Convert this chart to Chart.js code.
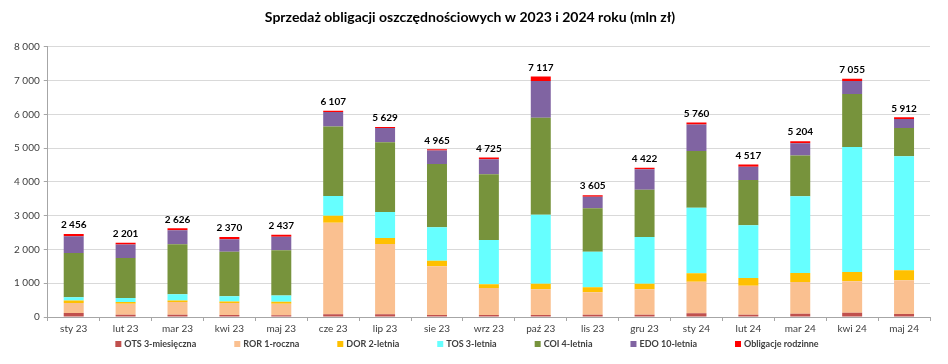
<!DOCTYPE html>
<html>
<head>
<meta charset="utf-8">
<script src="https://cdn.jsdelivr.net/npm/chart.js@4/dist/chart.umd.min.js"></script>
<style>
html, body { margin: 0; padding: 0; background: #fff; }
#wrap { width: 948px; height: 364px; }
</style>
</head>
<body>
<div id="wrap"><canvas id="salesChart" width="948" height="364"></canvas></div>
<script>
var months = ["sty 23","lut 23","mar 23","kwi 23","maj 23","cze 23","lip 23","sie 23","wrz 23","paź 23","lis 23","gru 23","sty 24","lut 24","mar 24","kwi 24","maj 24"];

var ots = [118, 69, 70, 60, 55, 80, 80, 60, 60, 60, 70, 70, 109, 70, 99, 128, 89];
var ror = [294, 323, 371, 352, 337, 2714, 2082, 1440, 799, 759, 660, 749, 937, 858, 938, 928, 997];
var dor = [78, 49, 49, 49, 59, 207, 178, 168, 108, 168, 149, 168, 247, 227, 266, 277, 296];
var tos = [98, 118, 186, 157, 186, 582, 770, 987, 1313, 2044, 1056, 1382, 1945, 1560, 2271, 3702, 3376];
var coi = [1304, 1186, 1481, 1313, 1343, 2054, 2063, 1876, 1945, 2872, 1283, 1402, 1678, 1342, 1204, 1569, 839];
var edo = [500, 402, 412, 373, 393, 434, 424, 395, 444, 1086, 346, 602, 780, 395, 365, 385, 267];
var rodzinne = [64, 54, 57, 66, 64, 36, 32, 39, 56, 128, 41, 49, 64, 65, 61, 66, 48];

var totals = [2456, 2201, 2626, 2370, 2437, 6107, 5629, 4965, 4725, 7117, 3605, 4422, 5760, 4517, 5204, 7055, 5912];

var yTicks = [0, 1000, 2000, 3000, 4000, 5000, 6000, 7000, 8000];

function fmt(n) {
	return String(n).replace(/\B(?=(\d{3})+(?!\d))/g, " ");
}

var font = "Lato";

// sum labels above every bar
var totalsPlugin = {
	id: "totals",
	afterDatasetsDraw: function(chart) {
		var ctx = chart.ctx;
		var last = chart.getDatasetMeta(chart.data.datasets.length - 1);
		ctx.save();
		ctx.font = "bold 10px " + font;
		ctx.fillStyle = "#000000";
		ctx.textAlign = "center";
		ctx.textBaseline = "bottom";
		for(var i = 0;i < totals.length;++i) {
			var bar = last.data[i];
			ctx.fillText(fmt(totals[i]), bar.x, bar.y - 4);
		}
		ctx.restore();
	}
};

// Excel-like legend: one compact row, wide gaps between items
var legendPlugin = {
	id: "rowLegend",
	afterDraw: function(chart) {
		var ctx = chart.ctx;
		var sets = chart.data.datasets;
		var box = 6, gapBox = 3, gapItem = 38;
		ctx.save();
		ctx.font = "bold 9px " + font;
		ctx.textBaseline = "middle";
		ctx.textAlign = "left";
		var widths = sets.map(function(d) { return box + gapBox + ctx.measureText(d.label).width; });
		var total = widths.reduce(function(a, b) { return a + b; }, 0) + gapItem * (sets.length - 1);
		var x = chart.width / 2 - total / 2 - 7;
		var y = chart.height - 20;
		for(var i = 0;i < sets.length;++i) {
			ctx.fillStyle = sets[i].backgroundColor;
			ctx.fillRect(x, y - box / 2, box, box);
			ctx.fillStyle = "#404040";
			ctx.fillText(sets[i].label, x + box + gapBox, y);
			x += widths[i] + gapItem;
		}
		ctx.restore();
	}
};

function ds(label, values, color) {
	return {
		label: label,
		data: values,
		backgroundColor: color,
		borderWidth: 0,
		barPercentage: 0.77,
		categoryPercentage: 0.5
	};
}

var data = {
	labels: months,
	datasets: [
		ds("OTS 3-miesięczna", ots, "#c0504d"),
		ds("ROR 1-roczna", ror, "#fac090"),
		ds("DOR 2-letnia", dor, "#ffc000"),
		ds("TOS 3-letnia", tos, "#66ffff"),
		ds("COI 4-letnia", coi, "#77933c"),
		ds("EDO 10-letnia", edo, "#8064a2"),
		ds("Obligacje rodzinne", rodzinne, "#ff0000")
	]
};

var config = {
	type: "bar",
	data: data,
	plugins: [totalsPlugin, legendPlugin],
	options: {
		responsive: false,
		devicePixelRatio: 1,
		animation: false,
		layout: {padding: {left: 10, right: 18, top: 0, bottom: 27}},
		plugins: {
			title: {
				display: true,
				text: "Sprzedaż obligacji oszczędnościowych w 2023 i 2024 roku (mln zł)",
				color: "#000000",
				font: {family: font, size: 14, weight: "bold"},
				padding: {top: 9, bottom: 21}
			},
			legend: {display: false},
			tooltip: {enabled: false}
		},
		scales: {
			x: {
				stacked: true,
				grid: {display: true, drawOnChartArea: false, drawTicks: true, tickLength: 4, offset: true, color: "#a6a6a6"},
				border: {color: "#a6a6a6"},
				ticks: {color: "#404040", font: {family: font, size: 10}, maxRotation: 0, padding: 2}
			},
			y: {
				stacked: true,
				min: 0,
				max: 8000,
				afterBuildTicks: function(axis) {
					axis.ticks = yTicks.map(function(v) { return {value: v}; });
				},
				grid: {color: "#d9d9d9", tickLength: 4, tickColor: "#a6a6a6"},
				border: {color: "#a6a6a6"},
				ticks: {
					color: "#404040",
					font: {family: font, size: 10},
					padding: 4,
					callback: function(v) { return fmt(v); }
				}
			}
		}
	}
};

const salesChart = new Chart(document.getElementById("salesChart"), config);
</script>
</body>
</html>
